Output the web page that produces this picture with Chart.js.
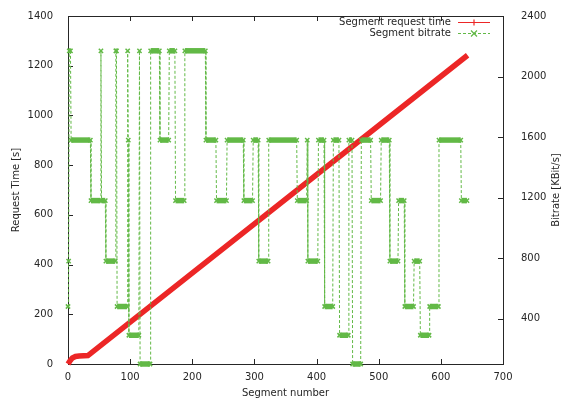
<!DOCTYPE html>
<html>
<head>
<meta charset="utf-8">
<script src="https://cdn.jsdelivr.net/npm/chart.js@4/dist/chart.umd.min.js"></script>
<style>
  html, body { margin: 0; padding: 0; background: #fff; }
  #wrap { width: 562px; height: 400px; }
</style>
</head>
<body>
<div id="wrap"><canvas id="chart" width="562" height="400"></canvas></div>
<script>
// request time (s) per segment, read at the bends of the line
const REQ_SEGMENT = [0, 3, 7, 12, 18, 32, 643];
const REQ_TIME = [0, 12, 24, 30, 32, 34, 1242];

// bitrate runs: first segment, last segment, KBit/s
const RUN_START = [0, 1, 2, 5, 37, 53, 54, 61, 77, 79, 96, 97, 98, 115, 116, 133, 148, 163, 173, 188,
  222, 239, 256, 283, 298, 307, 323, 369, 385, 386, 403, 413, 427, 437, 452, 458, 472, 488, 504, 518,
  532, 542, 557, 567, 582, 597, 633];
const RUN_END = [0, 1, 4, 36, 52, 53, 60, 76, 78, 95, 96, 97, 114, 115, 132, 147, 162, 172, 187, 221,
  238, 255, 282, 297, 306, 322, 368, 384, 385, 402, 412, 426, 436, 451, 457, 471, 487, 503, 517, 531,
  541, 556, 566, 581, 596, 632, 642];
const RUN_KBIT = [480, 780, 2170, 1580, 1180, 2170, 1180, 780, 2170, 480, 2170, 1580, 290, 2170, 100, 2170, 1580, 2170, 1180, 2170,
  1580, 1180, 1580, 1180, 1580, 780, 1580, 1180, 1580, 780, 1580, 480, 1580, 290, 1580, 100, 1580, 1180, 1580, 780,
  1180, 480, 780, 290, 480, 1580, 1180];

const X_TICKS = [0, 100, 200, 300, 400, 500, 600, 700];
const LEFT_TICKS = [0, 200, 400, 600, 800, 1000, 1200, 1400];
const RIGHT_TICKS = [400, 800, 1200, 1600, 2000, 2400];

const RED = '#ec2626';
const GREEN = '#62b946';
const INK = '#262626';

Chart.defaults.font.family = 'DejaVu Sans, sans-serif';
Chart.defaults.font.size = 10;
Chart.defaults.color = INK;

const reqPoints = REQ_SEGMENT.map((s, i) => ({ x: s, y: REQ_TIME[i] }));
const bitPoints = [];
RUN_START.forEach((s, i) => {
  bitPoints.push({ x: s, y: RUN_KBIT[i] });
  if (RUN_END[i] > s) bitPoints.push({ x: RUN_END[i], y: RUN_KBIT[i] });
});

const LEGEND = [
  { label: 'Segment request time', color: RED, dash: [], mark: 'plus' },
  { label: 'Segment bitrate', color: GREEN, dash: [3, 2], mark: 'cross' },
];

function drawMark(ctx, kind, x, y, r) {
  ctx.beginPath();
  if (kind === 'plus') {
    ctx.moveTo(x - r, y); ctx.lineTo(x + r, y);
    ctx.moveTo(x, y - r); ctx.lineTo(x, y + r);
  } else {
    ctx.moveTo(x - r, y - r); ctx.lineTo(x + r, y + r);
    ctx.moveTo(x - r, y + r); ctx.lineTo(x + r, y - r);
  }
  ctx.stroke();
}

const gnuFrame = {
  id: 'gnuFrame',
  beforeDatasetsDraw(chart) {
    const { ctx, chartArea: a, scales } = chart;
    ctx.save();
    ctx.strokeStyle = INK;
    ctx.lineWidth = 1;
    ctx.beginPath();
    X_TICKS.forEach(v => {
      const px = Math.round(scales.x.getPixelForValue(v)) + 0.5;
      ctx.moveTo(px, a.bottom); ctx.lineTo(px, a.bottom - 5);
      ctx.moveTo(px, a.top); ctx.lineTo(px, a.top + 5);
    });
    LEFT_TICKS.forEach(v => {
      const py = Math.round(scales.y.getPixelForValue(v)) + 0.5;
      ctx.moveTo(a.left, py); ctx.lineTo(a.left + 5, py);
    });
    RIGHT_TICKS.forEach(v => {
      const py = Math.round(scales.y2.getPixelForValue(v)) + 0.5;
      ctx.moveTo(a.right, py); ctx.lineTo(a.right - 5, py);
    });
    ctx.stroke();
    ctx.strokeRect(a.left + 0.5, a.top + 0.5, a.right - a.left, a.bottom - a.top);
    ctx.restore();
  },
  afterDraw(chart) {
    const { ctx, chartArea: a } = chart;
    ctx.save();
    ctx.font = '10px DejaVu Sans, sans-serif';
    ctx.fillStyle = INK;
    // right axis title, reading bottom to top
    ctx.translate(556, (a.top + a.bottom) / 2);
    ctx.rotate(-Math.PI / 2);
    ctx.textAlign = 'center';
    ctx.textBaseline = 'middle';
    ctx.fillText('Bitrate [KBit/s]', 0, 0);
    ctx.restore();

    ctx.save();
    ctx.font = '10px DejaVu Sans, sans-serif';
    ctx.textAlign = 'right';
    ctx.textBaseline = 'middle';
    LEGEND.forEach((item, i) => {
      const y = 22 + i * 11;
      ctx.fillStyle = INK;
      ctx.fillText(item.label, 451, y);
      ctx.strokeStyle = item.color;
      ctx.lineWidth = 1;
      ctx.setLineDash(item.dash);
      ctx.beginPath();
      ctx.moveTo(458, y + 0.5); ctx.lineTo(490, y + 0.5);
      ctx.stroke();
      ctx.setLineDash([]);
      ctx.lineWidth = 1.2;
      drawMark(ctx, item.mark, 474, y + 0.5, 3);
    });
    ctx.restore();
  }
};

new Chart(document.getElementById('chart'), {
  type: 'line',
  data: {
    datasets: [
      {
        label: 'Segment request time',
        data: reqPoints,
        yAxisID: 'y',
        borderColor: RED,
        borderWidth: 5.5,
        pointRadius: 0,
        tension: 0,
        clip: false,
        order: 1,
      },
      {
        label: 'Segment bitrate',
        data: bitPoints,
        yAxisID: 'y2',
        borderColor: GREEN,
        borderWidth: 1,
        pointStyle: 'crossRot',
        pointRadius: 3,
        pointBorderWidth: 1.5,
        pointBorderColor: GREEN,
        pointBackgroundColor: GREEN,
        tension: 0,
        clip: false,
        order: 0,
        segment: {
          borderWidth: c => c.p0.parsed.y === c.p1.parsed.y ? 5.5 : 1,
          borderDash: c => c.p0.parsed.y === c.p1.parsed.y ? [] : [3, 2],
        },
      },
    ]
  },
  options: {
    responsive: false,
    animation: false,
    layout: { padding: { top: 10, left: 0, right: 0, bottom: 0 } },
    scales: {
      x: {
        type: 'linear',
        min: 0, max: 700,
        afterFit: s => { s.height = 36; },
        ticks: { stepSize: 100, padding: -1, callback: v => v, color: INK },
        grid: { display: false },
        border: { display: false },
        title: { display: true, text: 'Segment number', padding: { top: 0, bottom: 0.5 }, color: INK },
      },
      y: {
        position: 'left',
        min: 0, max: 1400,
        afterFit: s => { s.width = 68; },
        ticks: { stepSize: 200, padding: 7, callback: v => v, color: INK },
        grid: { display: false },
        border: { display: false },
        title: { display: true, text: 'Request Time [s]', padding: { top: 10, bottom: 0 }, color: INK },
      },
      y2: {
        position: 'right',
        min: 100, max: 2400,
        afterFit: s => { s.width = 59; },
        afterBuildTicks: s => { s.ticks = RIGHT_TICKS.map(v => ({ value: v })); },
        ticks: { padding: 10, callback: v => v, color: INK },
        grid: { display: false },
        border: { display: false },
      },
    },
    plugins: {
      legend: { display: false },
      tooltip: { enabled: false },
    }
  },
  plugins: [gnuFrame]
});
</script>
</body>
</html>
